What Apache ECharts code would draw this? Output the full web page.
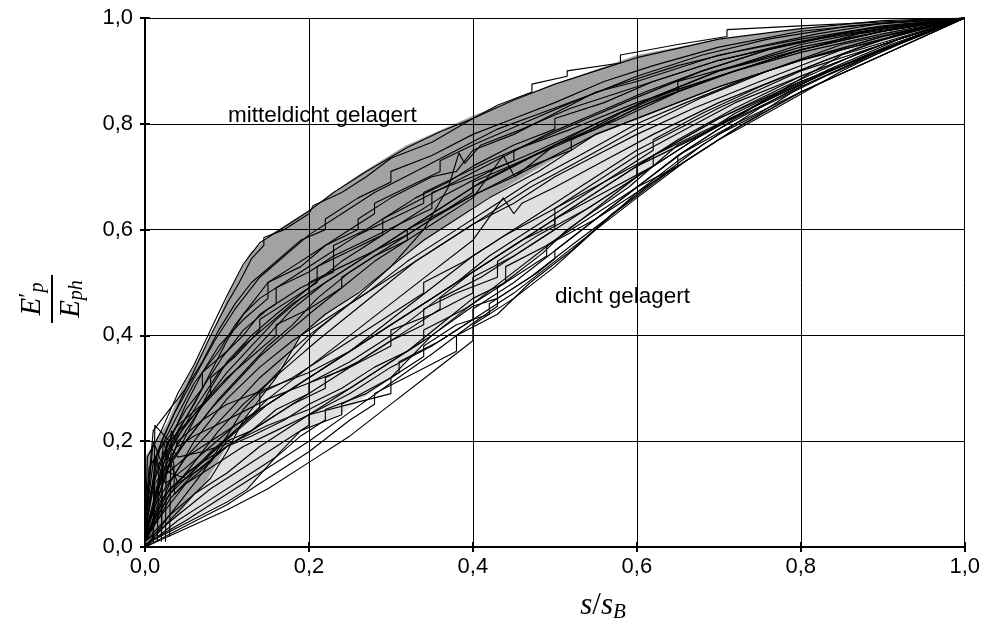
<!DOCTYPE html>
<html><head><meta charset="utf-8">
<script src="https://cdn.jsdelivr.net/npm/echarts@6/dist/echarts.min.js"></script>
<style>html,body{margin:0;padding:0;background:#fff}#c{width:983px;height:635px}</style>
</head><body><div id="c"></div>
<script>
// tick labels
const tickValues = [0, 0.2, 0.4, 0.6, 0.8, 1.0];
// band boundaries (x, y)
const denseMedUpper = [[0,0],[0,0.17],[0.027,0.234],[0.045,0.30],[0.059,0.34],[0.082,0.405],[0.104,0.486],[0.128,0.556],[0.156,0.594],[0.2,0.637],[0.26,0.703],[0.317,0.758],[0.40,0.815],[0.5,0.875],[0.6,0.93],[0.7,0.96],[0.8,0.98],[0.9,0.993],[1,1]];
const denseMedLower = [[0,0],[0.04,0.06],[0.076,0.127],[0.116,0.234],[0.156,0.316],[0.189,0.4],[0.23,0.45],[0.28,0.505],[0.323,0.561],[0.421,0.662],[0.482,0.718],[0.555,0.783],[0.6,0.807],[0.7,0.87],[0.8,0.92],[0.9,0.96],[1,1]];
const denseLower = [[0,0],[0.055,0.051],[0.124,0.108],[0.165,0.18],[0.189,0.221],[0.241,0.253],[0.302,0.321],[0.351,0.405],[0.396,0.454],[0.433,0.491],[0.485,0.556],[0.515,0.599],[0.588,0.68],[0.652,0.764],[0.726,0.822],[0.8,0.887],[0.851,0.93],[1,1]];

// measured curves, mitteldicht
const m1 = [[0,0.03],[0.003,0.17],[0.02,0.22],[0.04,0.29],[0.06,0.345],[0.08,0.41],[0.1,0.475],[0.12,0.535],[0.14,0.575],[0.17,0.605],[0.2,0.635],[0.23,0.67],[0.27,0.71],[0.32,0.755],[0.36,0.785],[0.4,0.81],[0.45,0.845],[0.5,0.875],[0.55,0.9],[0.6,0.925],[0.7,0.96],[0.8,0.98],[0.9,0.995],[1,1]];
const m2 = [[0,0.05],[0.02,0.2],[0.05,0.3],[0.08,0.4],[0.1,0.46],[0.115,0.5],[0.13,0.545],[0.145,0.57],[0.145,0.585],[0.17,0.6],[0.2,0.63],[0.205,0.645],[0.24,0.67],[0.27,0.7],[0.3,0.735],[0.35,0.765],[0.4,0.81],[0.43,0.835],[0.472,0.86],[0.472,0.875],[0.515,0.89],[0.515,0.9],[0.58,0.915],[0.58,0.93],[0.65,0.95],[0.71,0.965],[0.71,0.978],[0.8,0.985],[1,1]];
const m3 = [[0,0.02],[0.01,0.12],[0.03,0.2],[0.05,0.27],[0.07,0.33],[0.09,0.38],[0.12,0.43],[0.15,0.47],[0.15,0.5],[0.19,0.53],[0.22,0.57],[0.26,0.6],[0.26,0.62],[0.3,0.66],[0.35,0.7],[0.38,0.71],[0.4,0.75],[0.45,0.78],[0.5,0.82],[0.55,0.86],[0.6,0.88],[0.7,0.93],[0.8,0.96],[0.9,0.985],[1,1]];
const m4 = [[0.01,0.01],[0.012,0.12],[0.04,0.18],[0.06,0.24],[0.08,0.3],[0.1,0.35],[0.13,0.4],[0.16,0.44],[0.2,0.49],[0.24,0.54],[0.28,0.58],[0.32,0.62],[0.36,0.66],[0.42,0.71],[0.48,0.75],[0.55,0.8],[0.62,0.85],[0.7,0.9],[0.8,0.94],[0.9,0.975],[1,1]];
const m5 = [[0,0.03],[0.015,0.15],[0.035,0.22],[0.05,0.26],[0.07,0.3],[0.07,0.33],[0.1,0.37],[0.12,0.4],[0.14,0.44],[0.16,0.46],[0.16,0.49],[0.2,0.52],[0.23,0.55],[0.23,0.57],[0.27,0.6],[0.3,0.63],[0.33,0.66],[0.37,0.69],[0.4,0.72],[0.45,0.76],[0.5,0.79],[0.5,0.81],[0.56,0.84],[0.62,0.88],[0.7,0.92],[0.78,0.95],[0.88,0.98],[1,1]];
const m6 = [[0,0.02],[0.03,0.16],[0.06,0.22],[0.09,0.28],[0.12,0.33],[0.15,0.38],[0.18,0.42],[0.21,0.47],[0.25,0.52],[0.3,0.57],[0.35,0.62],[0.4,0.665],[0.45,0.7],[0.5,0.74],[0.55,0.78],[0.6,0.81],[0.7,0.87],[0.8,0.92],[0.9,0.965],[1,1]];
const m7 = [[0,0.04],[0.01,0.16],[0.04,0.25],[0.06,0.31],[0.09,0.37],[0.11,0.42],[0.13,0.46],[0.15,0.5],[0.18,0.53],[0.21,0.56],[0.25,0.6],[0.28,0.63],[0.28,0.65],[0.32,0.68],[0.36,0.71],[0.36,0.73],[0.4,0.76],[0.46,0.8],[0.52,0.84],[0.6,0.89],[0.68,0.93],[0.76,0.96],[0.86,0.985],[1,1]];
const m8 = [[0,0.02],[0.02,0.13],[0.05,0.2],[0.08,0.26],[0.11,0.31],[0.14,0.36],[0.17,0.4],[0.2,0.44],[0.24,0.49],[0.28,0.54],[0.32,0.58],[0.36,0.62],[0.4,0.66],[0.437,0.74],[0.451,0.70],[0.5,0.76],[0.55,0.8],[0.62,0.85],[0.7,0.9],[0.8,0.945],[0.9,0.975],[1,1]];
const m9 = [[0,0.01],[0.02,0.1],[0.05,0.17],[0.08,0.22],[0.11,0.27],[0.14,0.32],[0.17,0.36],[0.2,0.4],[0.25,0.46],[0.3,0.53],[0.34,0.6],[0.37,0.68],[0.383,0.745],[0.39,0.725],[0.41,0.76],[0.46,0.79],[0.52,0.83],[0.6,0.87],[0.7,0.92],[0.8,0.955],[0.9,0.98],[1,1]];
const m10 = [[0,0.03],[0.01,0.2],[0.02,0.16],[0.04,0.22],[0.06,0.27],[0.08,0.33],[0.1,0.39],[0.12,0.44],[0.14,0.47],[0.18,0.51],[0.22,0.55],[0.26,0.59],[0.3,0.62],[0.34,0.65],[0.34,0.67],[0.38,0.7],[0.42,0.73],[0.48,0.77],[0.54,0.81],[0.6,0.85],[0.68,0.9],[0.76,0.94],[0.86,0.975],[1,1]];
const m11 = [[0,0],[0.03,0.05],[0.06,0.1],[0.08,0.13],[0.1,0.18],[0.12,0.24],[0.14,0.28],[0.16,0.32],[0.19,0.4],[0.22,0.44],[0.26,0.48],[0.3,0.53],[0.34,0.58],[0.38,0.62],[0.42,0.66],[0.48,0.71],[0.55,0.78],[0.6,0.81],[0.7,0.87],[0.8,0.92],[0.9,0.96],[1,1]];
const m12 = [[0,0.05],[0.005,0.15],[0.02,0.19],[0.04,0.23],[0.07,0.27],[0.1,0.32],[0.13,0.36],[0.16,0.4],[0.16,0.42],[0.2,0.45],[0.24,0.49],[0.24,0.51],[0.28,0.55],[0.32,0.58],[0.32,0.6],[0.37,0.64],[0.42,0.68],[0.47,0.72],[0.52,0.75],[0.52,0.77],[0.58,0.81],[0.65,0.86],[0.72,0.9],[0.8,0.935],[0.9,0.97],[1,1]];
const m13 = [[0,0.02],[0.025,0.17],[0.045,0.23],[0.07,0.3],[0.095,0.36],[0.12,0.41],[0.15,0.45],[0.19,0.49],[0.23,0.52],[0.23,0.55],[0.27,0.58],[0.31,0.61],[0.35,0.64],[0.35,0.67],[0.4,0.7],[0.45,0.73],[0.45,0.75],[0.52,0.79],[0.6,0.84],[0.7,0.89],[0.8,0.94],[0.9,0.975],[1,1]];
const m14 = [[0,0.01],[0.03,0.12],[0.06,0.2],[0.1,0.28],[0.14,0.34],[0.18,0.39],[0.22,0.43],[0.27,0.48],[0.32,0.54],[0.37,0.59],[0.42,0.64],[0.47,0.69],[0.53,0.74],[0.6,0.8],[0.66,0.84],[0.74,0.89],[0.82,0.93],[0.9,0.965],[1,1]];
const m15 = [[0,0.04],[0.01,0.22],[0.03,0.26],[0.05,0.3],[0.07,0.35],[0.09,0.41],[0.11,0.46],[0.13,0.5],[0.16,0.54],[0.19,0.58],[0.22,0.6],[0.22,0.62],[0.26,0.66],[0.3,0.69],[0.3,0.71],[0.35,0.74],[0.4,0.78],[0.45,0.81],[0.5,0.84],[0.56,0.88],[0.62,0.91],[0.7,0.945],[0.8,0.975],[0.9,0.99],[1,1]];
const m16 = [[0,0.02],[0.02,0.15],[0.04,0.21],[0.07,0.27],[0.1,0.33],[0.13,0.38],[0.16,0.43],[0.19,0.47],[0.22,0.5],[0.25,0.53],[0.29,0.57],[0.33,0.61],[0.37,0.65],[0.41,0.69],[0.46,0.73],[0.5,0.76],[0.55,0.79],[0.6,0.83],[0.65,0.86],[0.65,0.88],[0.72,0.91],[0.8,0.95],[0.9,0.98],[1,1]];
const m17 = [[0,0.01],[0.02,0.14],[0.05,0.22],[0.08,0.29],[0.08,0.32],[0.11,0.36],[0.14,0.41],[0.14,0.43],[0.18,0.47],[0.21,0.5],[0.21,0.53],[0.25,0.56],[0.29,0.59],[0.29,0.62],[0.34,0.66],[0.39,0.7],[0.44,0.74],[0.49,0.78],[0.55,0.82],[0.61,0.86],[0.68,0.9],[0.76,0.94],[0.85,0.97],[1,1]];
const m18 = [[0,0.03],[0.015,0.18],[0.035,0.25],[0.06,0.32],[0.085,0.39],[0.11,0.45],[0.14,0.51],[0.17,0.55],[0.2,0.59],[0.24,0.63],[0.28,0.67],[0.33,0.71],[0.38,0.75],[0.43,0.79],[0.5,0.83],[0.57,0.87],[0.65,0.91],[0.73,0.94],[0.82,0.97],[0.9,0.99],[1,1]];
const m19 = [[0,0.0],[0.04,0.08],[0.07,0.14],[0.1,0.21],[0.12,0.26],[0.15,0.31],[0.18,0.36],[0.21,0.41],[0.25,0.46],[0.3,0.51],[0.35,0.56],[0.4,0.61],[0.45,0.65],[0.5,0.7],[0.55,0.74],[0.6,0.78],[0.67,0.83],[0.75,0.88],[0.85,0.94],[1,1]];
const m20 = [[0.01,0.02],[0.012,0.23],[0.03,0.2],[0.06,0.25],[0.09,0.3],[0.12,0.35],[0.15,0.4],[0.18,0.45],[0.22,0.5],[0.26,0.54],[0.3,0.58],[0.35,0.63],[0.4,0.68],[0.45,0.72],[0.5,0.76],[0.56,0.8],[0.63,0.85],[0.7,0.89],[0.78,0.93],[0.87,0.97],[1,1]];
const m21 = [[0,0.02],[0.03,0.18],[0.06,0.26],[0.09,0.33],[0.12,0.38],[0.15,0.42],[0.18,0.46],[0.2,0.48],[0.2,0.5],[0.24,0.53],[0.28,0.56],[0.32,0.59],[0.36,0.63],[0.4,0.67],[0.4,0.69],[0.46,0.73],[0.52,0.77],[0.58,0.82],[0.64,0.86],[0.72,0.9],[0.8,0.94],[0.9,0.975],[1,1]];

// measured curves, dicht
const d1 = [[0,0.02],[0.03,0.1],[0.06,0.16],[0.09,0.22],[0.12,0.27],[0.15,0.31],[0.18,0.35],[0.21,0.39],[0.25,0.44],[0.29,0.49],[0.33,0.54],[0.37,0.58],[0.42,0.63],[0.47,0.68],[0.53,0.73],[0.6,0.79],[0.68,0.85],[0.76,0.9],[0.85,0.95],[1,1]];
const d2 = [[0.015,0.01],[0.017,0.16],[0.03,0.14],[0.05,0.13],[0.08,0.18],[0.11,0.22],[0.14,0.26],[0.14,0.29],[0.18,0.32],[0.22,0.36],[0.26,0.4],[0.3,0.44],[0.34,0.48],[0.34,0.5],[0.39,0.54],[0.44,0.59],[0.5,0.64],[0.55,0.69],[0.6,0.74],[0.66,0.79],[0.72,0.84],[0.8,0.89],[0.9,0.95],[1,1]];
const d3 = [[0,0.02],[0.025,0.07],[0.05,0.12],[0.08,0.16],[0.1,0.2],[0.13,0.22],[0.16,0.26],[0.2,0.29],[0.2,0.31],[0.25,0.34],[0.3,0.38],[0.3,0.41],[0.35,0.44],[0.4,0.48],[0.4,0.51],[0.45,0.55],[0.5,0.6],[0.5,0.62],[0.56,0.67],[0.62,0.72],[0.62,0.74],[0.7,0.8],[0.78,0.86],[0.88,0.93],[1,1]];
const d4 = [[0,0.01],[0.03,0.06],[0.06,0.1],[0.1,0.14],[0.14,0.19],[0.18,0.23],[0.22,0.27],[0.26,0.31],[0.3,0.35],[0.35,0.4],[0.4,0.46],[0.45,0.52],[0.5,0.58],[0.55,0.64],[0.6,0.7],[0.66,0.76],[0.72,0.82],[0.8,0.88],[0.9,0.94],[1,1]];
const d5 = [[0,0.005],[0.05,0.045],[0.1,0.085],[0.124,0.108],[0.165,0.18],[0.19,0.22],[0.24,0.25],[0.24,0.27],[0.3,0.32],[0.35,0.4],[0.4,0.455],[0.43,0.47],[0.43,0.49],[0.485,0.555],[0.515,0.6],[0.59,0.68],[0.65,0.76],[0.73,0.82],[0.8,0.885],[0.85,0.93],[1,1]];
const d6 = [[0,0],[0.05,0.035],[0.1,0.07],[0.15,0.11],[0.2,0.16],[0.25,0.21],[0.3,0.27],[0.35,0.33],[0.4,0.39],[0.4,0.42],[0.45,0.47],[0.5,0.53],[0.55,0.6],[0.6,0.67],[0.65,0.73],[0.7,0.78],[0.75,0.82],[0.8,0.87],[0.9,0.94],[1,1]];
const d7 = [[0.005,0.01],[0.05,0.05],[0.1,0.1],[0.15,0.15],[0.2,0.2],[0.25,0.255],[0.3,0.31],[0.35,0.365],[0.4,0.423],[0.43,0.455],[0.43,0.47],[0.48,0.52],[0.5,0.545],[0.5,0.56],[0.55,0.62],[0.6,0.68],[0.65,0.74],[0.7,0.79],[0.76,0.84],[0.82,0.89],[0.9,0.94],[1,1]];
const d8 = [[0,0.01],[0.04,0.06],[0.08,0.11],[0.12,0.15],[0.16,0.19],[0.2,0.23],[0.2,0.25],[0.25,0.27],[0.3,0.29],[0.3,0.32],[0.34,0.36],[0.34,0.38],[0.38,0.42],[0.42,0.44],[0.42,0.46],[0.47,0.51],[0.52,0.57],[0.58,0.64],[0.64,0.71],[0.7,0.77],[0.77,0.83],[0.85,0.9],[0.93,0.96],[1,1]];
const d9 = [[0.02,0.02],[0.022,0.2],[0.04,0.12],[0.07,0.15],[0.1,0.19],[0.13,0.21],[0.17,0.24],[0.2,0.27],[0.24,0.3],[0.28,0.34],[0.32,0.37],[0.36,0.42],[0.4,0.47],[0.44,0.5],[0.44,0.53],[0.49,0.57],[0.55,0.63],[0.6,0.68],[0.65,0.72],[0.65,0.74],[0.72,0.8],[0.8,0.86],[0.9,0.93],[1,1]];
const d10 = [[0,0.03],[0.02,0.13],[0.05,0.17],[0.09,0.21],[0.13,0.25],[0.17,0.29],[0.21,0.33],[0.25,0.37],[0.29,0.41],[0.33,0.45],[0.37,0.49],[0.41,0.53],[0.46,0.58],[0.5,0.61],[0.5,0.64],[0.56,0.69],[0.62,0.74],[0.7,0.81],[0.78,0.87],[0.88,0.94],[1,1]];
const d11 = [[0,0.02],[0.04,0.2],[0.07,0.24],[0.1,0.27],[0.15,0.3],[0.2,0.33],[0.25,0.37],[0.3,0.43],[0.35,0.49],[0.4,0.55],[0.45,0.6],[0.5,0.65],[0.55,0.7],[0.6,0.75],[0.7,0.83],[0.8,0.9],[0.9,0.95],[1,1]];
const d12 = [[0,0.01],[0.03,0.09],[0.06,0.14],[0.1,0.19],[0.14,0.23],[0.18,0.27],[0.22,0.3],[0.22,0.32],[0.26,0.35],[0.3,0.39],[0.34,0.42],[0.34,0.45],[0.38,0.48],[0.43,0.51],[0.43,0.54],[0.48,0.59],[0.54,0.64],[0.6,0.7],[0.6,0.72],[0.68,0.78],[0.75,0.84],[0.83,0.9],[0.92,0.96],[1,1]];
const d13 = [[0.03,0.02],[0.032,0.22],[0.04,0.19],[0.06,0.21],[0.1,0.24],[0.15,0.28],[0.2,0.31],[0.25,0.35],[0.3,0.4],[0.35,0.46],[0.4,0.52],[0.45,0.57],[0.5,0.62],[0.56,0.68],[0.62,0.74],[0.7,0.81],[0.8,0.88],[0.9,0.94],[1,1]];
const d14 = [[0.02,0.01],[0.021,0.18],[0.035,0.16],[0.036,0.1],[0.05,0.12],[0.08,0.15],[0.12,0.19],[0.16,0.22],[0.2,0.25],[0.25,0.29],[0.3,0.34],[0.35,0.38],[0.4,0.43],[0.45,0.48],[0.5,0.54],[0.55,0.6],[0.6,0.66],[0.66,0.73],[0.73,0.8],[0.8,0.86],[0.9,0.93],[1,1]];
const d15 = [[0,0.01],[0.02,0.09],[0.05,0.14],[0.08,0.17],[0.12,0.21],[0.16,0.25],[0.2,0.29],[0.24,0.33],[0.28,0.37],[0.32,0.41],[0.36,0.45],[0.36,0.47],[0.41,0.51],[0.46,0.56],[0.51,0.61],[0.56,0.66],[0.61,0.71],[0.67,0.77],[0.74,0.83],[0.82,0.89],[0.91,0.95],[1,1]];
const d16 = [[0.01,0.01],[0.012,0.17],[0.025,0.12],[0.05,0.15],[0.08,0.19],[0.11,0.23],[0.15,0.27],[0.19,0.31],[0.23,0.35],[0.27,0.39],[0.31,0.43],[0.35,0.47],[0.39,0.51],[0.44,0.56],[0.49,0.61],[0.54,0.66],[0.59,0.71],[0.65,0.77],[0.72,0.83],[0.8,0.89],[0.9,0.95],[1,1]];
const d17 = [[0,0.0],[0.04,0.05],[0.08,0.09],[0.12,0.13],[0.16,0.17],[0.19,0.21],[0.22,0.24],[0.22,0.26],[0.27,0.29],[0.31,0.33],[0.31,0.35],[0.36,0.39],[0.4,0.43],[0.4,0.45],[0.45,0.5],[0.5,0.56],[0.55,0.62],[0.6,0.68],[0.66,0.75],[0.72,0.81],[0.8,0.87],[0.9,0.94],[1,1]];
const d18 = [[0,0.02],[0.03,0.11],[0.06,0.15],[0.09,0.19],[0.12,0.23],[0.15,0.27],[0.18,0.3],[0.22,0.34],[0.26,0.38],[0.3,0.42],[0.34,0.46],[0.38,0.5],[0.42,0.55],[0.47,0.6],[0.52,0.65],[0.57,0.7],[0.62,0.75],[0.62,0.77],[0.68,0.82],[0.75,0.87],[0.83,0.92],[0.92,0.97],[1,1]];
const d19 = [[0,0.01],[0.03,0.1],[0.07,0.16],[0.11,0.22],[0.15,0.28],[0.2,0.34],[0.25,0.4],[0.3,0.46],[0.35,0.52],[0.4,0.58],[0.437,0.66],[0.45,0.63],[0.46,0.65],[0.5,0.68],[0.56,0.73],[0.62,0.78],[0.7,0.84],[0.78,0.89],[0.88,0.95],[1,1]];
const d20 = [[0.025,0.01],[0.026,0.2],[0.04,0.17],[0.07,0.18],[0.11,0.2],[0.15,0.23],[0.2,0.26],[0.25,0.3],[0.3,0.35],[0.34,0.39],[0.34,0.41],[0.39,0.45],[0.44,0.5],[0.49,0.55],[0.49,0.57],[0.55,0.62],[0.6,0.67],[0.66,0.73],[0.72,0.79],[0.8,0.86],[0.9,0.93],[1,1]];
const d21 = [[0,0.0],[0.05,0.04],[0.1,0.08],[0.15,0.13],[0.2,0.18],[0.25,0.24],[0.28,0.27],[0.28,0.29],[0.33,0.33],[0.38,0.37],[0.38,0.4],[0.43,0.44],[0.47,0.5],[0.52,0.56],[0.57,0.63],[0.62,0.69],[0.68,0.76],[0.75,0.83],[0.83,0.89],[0.92,0.95],[1,1]];

const curves = [m1,m2,m3,m4,m5,m6,m7,m8,m9,m10,m11,m12,m13,m14,m15,m16,m17,m18,m19,m20,m21,
  d1,d2,d3,d4,d5,d6,d7,d8,d9,d10,d11,d12,d13,d14,d15,d16,d17,d18,d19,d20,d21];

const labelMid = 'mitteldicht gelagert';
const labelDense = 'dicht gelagert';

function bandSeries(upper, lower, color) {
  return {
    type: 'custom', silent: true, z: 1,
    data: [0],
    renderItem: function (params, api) {
      const pts = upper.concat(lower.slice().reverse()).map(p => api.coord(p));
      return { type: 'polygon', shape: { points: pts }, style: { fill: color, stroke: null } };
    }
  };
}

const chart = echarts.init(document.getElementById('c'), null, { renderer: 'canvas' });
const fmt = v => v.toFixed(1).replace('.', ',');
const axisCommon = {
  type: 'value', min: 0, max: 1, interval: 0.2, z: 5,
  axisLine: { show: true, lineStyle: { color: '#000', width: 2 } },
  axisTick: { show: true, inside: true, length: 5, lineStyle: { color: '#000', width: 2 } },
  splitLine: { show: false },
};
const series = [
  bandSeries(denseMedLower, denseLower, '#e0e0e0'),
  bandSeries(denseMedUpper, denseMedLower, '#a2a2a2'),
];
curves.forEach(c => series.push({
  type: 'line', data: c, symbol: 'none', silent: true, z: 3,
  lineStyle: { color: '#000', width: 1.15 }
}));

const labelFont = { color: '#000', fontSize: 22, fontFamily: '"Liberation Sans", Arial, sans-serif' };

chart.setOption({
  animation: false,
  backgroundColor: '#fff',
  grid: { left: 145, right: 18, top: 18, bottom: 88, containLabel: false },
  xAxis: [
    Object.assign({}, axisCommon, { position: 'bottom',
      splitLine: { show: true, lineStyle: { color: '#000', width: 1 } },
      axisLabel: Object.assign({ formatter: fmt, margin: 9 }, labelFont) }),
    Object.assign({}, axisCommon, { position: 'top', axisLabel: { show: false } })
  ],
  yAxis: [
    Object.assign({}, axisCommon, { position: 'left',
      splitLine: { show: true, lineStyle: { color: '#000', width: 1 } },
      axisLabel: Object.assign({ formatter: fmt, margin: 12 }, labelFont) }),
    Object.assign({}, axisCommon, { position: 'right', axisLabel: { show: false } })
  ],
  series: series,
  graphic: [
    { type: 'text', left: 228, top: 104, z: 10, style: { text: labelMid, font: '22.5px "Liberation Sans", Arial, sans-serif', fill: '#000' } },
    { type: 'text', left: 555, top: 285, z: 10, style: { text: labelDense, font: '22.5px "Liberation Sans", Arial, sans-serif', fill: '#000' } },
    { type: 'text', x: 603, y: 606, z: 10, style: {
        text: '{i|s}{n|/}{i|s}{sub|B}', align: 'center', verticalAlign: 'middle',
        rich: {
          i: { fontFamily: 'Liberation Serif', fontStyle: 'italic', fontSize: 31, fill: '#000' },
          n: { fontFamily: 'Liberation Serif', fontSize: 31, fill: '#000' },
          sub: { fontFamily: 'Liberation Serif', fontStyle: 'italic', fontSize: 21, fill: '#000', padding: [12,0,0,0] }
        } } },
    { type: 'group', x: 52, y: 299, rotation: Math.PI / 2, z: 10, children: [
      { type: 'line', shape: { x1: -24, y1: 0, x2: 24, y2: 0 }, style: { stroke: '#000', lineWidth: 2 } },
      { type: 'text', x: 0, y: -20, style: {
          text: '{i|E}{sup|′}{sub|p}', align: 'center', verticalAlign: 'middle',
          rich: {
            i: { fontFamily: 'Liberation Serif', fontStyle: 'italic', fontSize: 29, fill: '#000' },
            sup: { fontFamily: 'Liberation Serif', fontSize: 24, fill: '#000', padding: [0,0,8,0] },
            sub: { fontFamily: 'Liberation Serif', fontStyle: 'italic', fontSize: 20, fill: '#000', padding: [12,0,0,0] }
          } } },
      { type: 'text', x: 0, y: 19, style: {
          text: '{i|E}{sub|ph}', align: 'center', verticalAlign: 'middle',
          rich: {
            i: { fontFamily: 'Liberation Serif', fontStyle: 'italic', fontSize: 29, fill: '#000' },
            sub: { fontFamily: 'Liberation Serif', fontStyle: 'italic', fontSize: 20, fill: '#000', padding: [12,0,0,0] }
          } } }
    ] }
  ]
});
</script></body></html>
